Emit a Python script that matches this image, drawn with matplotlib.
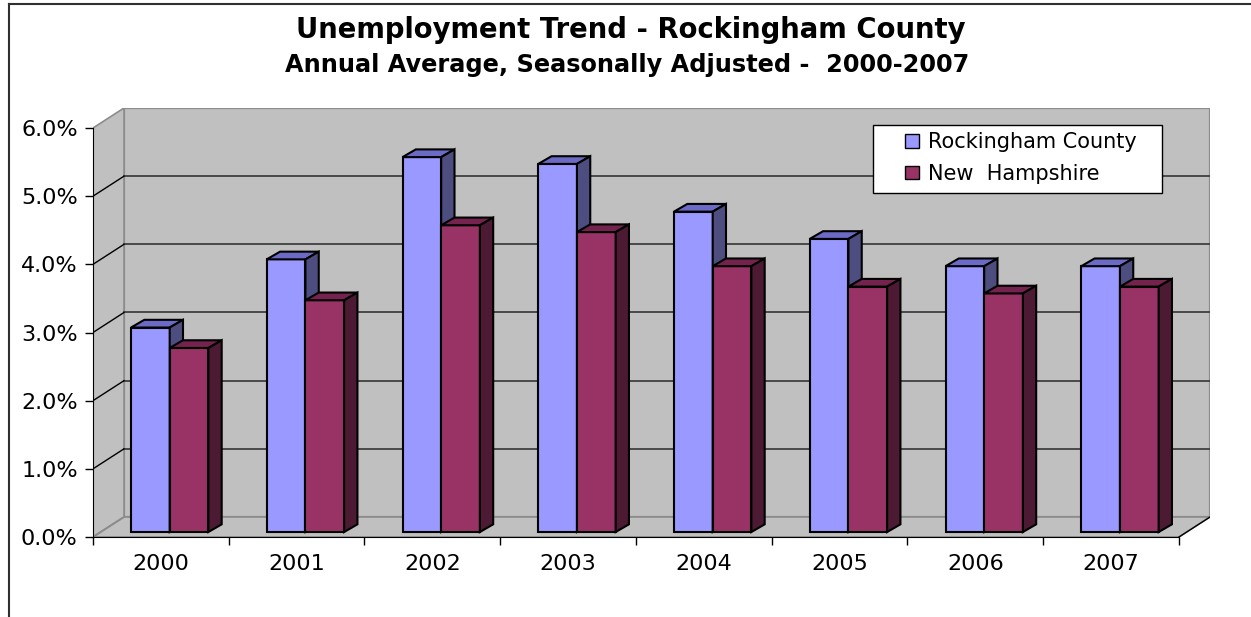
import matplotlib
matplotlib.use("Agg")
from matplotlib import pyplot as plt
from matplotlib.patches import Polygon, Rectangle, Patch
from matplotlib.lines import Line2D
import numpy as np

plt.rcParams['font.family'] = ['DejaVu Sans']

years = ["2000", "2001", "2002", "2003", "2004", "2005", "2006", "2007"]
rockingham = [3.0, 4.0, 5.5, 5.4, 4.7, 4.3, 3.9, 3.9]
new_hampshire = [2.7, 3.4, 4.5, 4.4, 3.9, 3.6, 3.5, 3.6]
series_names = ["Rockingham County", "New  Hampshire"]
yticks = [0, 1, 2, 3, 4, 5, 6]

title = "Unemployment Trend - Rockingham County"
subtitle = "Annual Average, Seasonally Adjusted -  2000-2007"

# colours: front, top, side
palette = [("#9999FF", "#6B6BC6", "#4D4D80"),
           ("#993366", "#73234D", "#4D1A33")]
wall = "#C0C0C0"

# 3d look: depth offsets of the walls and of the bars (data units)
DX, DY = 0.2284, 0.2934
BDX, BDY = 0.098, 0.113
BASE = 0.073
BW = 0.285
START = 0.28

n = len(years)
fig = plt.figure(figsize=(12.51, 6.17), dpi=100)
W, H = 1251, 617
ax = fig.add_axes([93 / W, (H - 537) / H, (1210 - 93) / W, (537 - 108) / H])
ax.set_xlim(0, n + DX)
ax.set_ylim(0, yticks[-1] + DY)
ax.patch.set_visible(False)
top = yticks[-1]

# walls and floor
ax.add_patch(Rectangle((DX, DY), n, top, facecolor=wall, edgecolor="#8C8C8C", lw=1.6, zorder=0))
ax.add_patch(Polygon([(0, 0), (DX, DY), (DX, top + DY), (0, top)], closed=True,
                     facecolor=wall, edgecolor="#8C8C8C", lw=1.2, zorder=0))
ax.add_patch(Polygon([(0, 0), (n, 0), (n + DX, DY), (DX, DY)], closed=True,
                     facecolor=wall, edgecolor="#8C8C8C", lw=1.2, zorder=0))
ax.plot([n, n + DX], [0, DY], color="black", lw=1.0, zorder=1)
for k in yticks[1:-1]:
    ax.plot([DX, n + DX], [k + DY, k + DY], color="#404040", lw=1.3, zorder=1)
    ax.plot([0, DX], [k, k + DY], color="black", lw=1.0, zorder=1)
ax.plot([0, DX], [0, DY], color="#8C8C8C", lw=1.2, zorder=1)

# bars
z = 2
for i in range(n):
    for s, vals in enumerate([rockingham, new_hampshire]):
        front, topc, side = palette[s]
        v = vals[i]
        x0 = i + START + s * BW
        x1 = x0 + BW
        y1 = BASE + v
        ax.bar(x0, v, width=BW, bottom=BASE, align="edge", color=front,
               edgecolor="black", lw=1.5, zorder=z)
        ax.add_patch(Polygon([(x0, y1), (x1, y1), (x1 + BDX, y1 + BDY), (x0 + BDX, y1 + BDY)],
                             closed=True, facecolor=topc, edgecolor="black", lw=1.5, zorder=z))
        ax.add_patch(Polygon([(x1, BASE), (x1 + BDX, BASE + BDY), (x1 + BDX, y1 + BDY), (x1, y1)],
                             closed=True, facecolor=side, edgecolor="black", lw=1.5, zorder=z))
        z += 1

# axes
for sp in ["top", "right"]:
    ax.spines[sp].set_visible(False)
ax.spines["left"].set_bounds(0, top)
ax.spines["bottom"].set_bounds(0, n)
ax.spines["left"].set_zorder(z + 1)
ax.spines["bottom"].set_zorder(z + 1)
ax.set_yticks(yticks)
ax.set_yticklabels([f"{t:.1f}%" for t in yticks], fontsize=16)
ax.set_xticks(np.arange(n + 1))
ax.set_xticklabels([])
ax.set_xticks(np.arange(n) + 0.5, minor=True)
ax.set_xticklabels(years, minor=True, fontsize=16)
ax.tick_params(axis="y", direction="out", length=6, width=1, pad=5)
ax.tick_params(axis="x", which="major", direction="out", length=6, width=1)
ax.tick_params(axis="x", which="minor", length=0, pad=12)

# titles
fig.text(0.504, 1 - 30 / H, title, ha="center", va="center", fontsize=19.8, fontweight="bold")
fig.text(0.501, 1 - 65 / H, subtitle, ha="center", va="center", fontsize=17.3, fontweight="bold")

# legend
fig.patches.append(Rectangle((873 / W, 1 - 193 / H), (1162 - 873) / W, (193 - 125) / H,
                             transform=fig.transFigure, facecolor="white", edgecolor="black",
                             lw=1.0, zorder=10))
handles = [Patch(facecolor=palette[s][0], edgecolor="black", lw=1.0) for s in range(2)]
leg = fig.legend(handles, series_names, loc="upper left", bbox_to_anchor=(897 / W, 1 - 124 / H),
                 frameon=False, fontsize=15, handlelength=0.65, handleheight=0.65,
                 handletextpad=0.45, labelspacing=0.55, borderaxespad=0)
leg.set_zorder(11)

# outer frame
fig.add_artist(Line2D([9 / W, 1], [1 - 4 / H, 1 - 4 / H], transform=fig.transFigure, color="#303030", lw=1.5))
fig.add_artist(Line2D([9 / W, 9 / W], [0, 1 - 4 / H], transform=fig.transFigure, color="#303030", lw=1.5))

fig.savefig("out.png", dpi=100)
